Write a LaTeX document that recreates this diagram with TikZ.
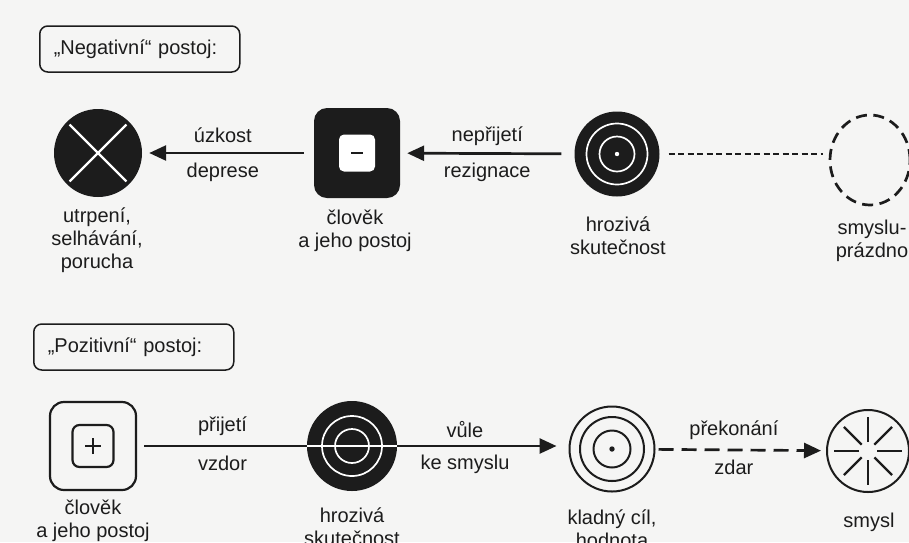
\documentclass[tikz,border=0pt]{standalone}
\usepackage{fontspec}
\setmainfont{Liberation Sans}
\usetikzlibrary{arrows.meta,shapes.geometric}
\definecolor{ink}{HTML}{1C1C1C}
\definecolor{paper}{HTML}{F5F5F4}
\begin{document}
\begin{tikzpicture}[x=1pt,y=-1pt,
  every node/.style={font=\fontsize{20}{23}\selectfont, text=ink},
  hdr/.style={draw=ink, line width=1.5pt, rounded corners=8pt,
    minimum height=46pt, text width=172pt, inner xsep=14pt, align=left},
  disc/.style={circle, fill=ink, inner sep=0pt},
  ring/.style={circle, draw=ink, line width=2pt, inner sep=0pt},
  caption/.style={align=center, inner sep=0pt},
  tag/.style={inner sep=0pt},
  link/.style={draw=ink, line width=2.7pt, -{Triangle[length=17pt,width=15pt]}},
]
\fill[paper] (0,0) rectangle (909,542);
\useasboundingbox (0,0) rectangle (909,542);

% ---------- negative attitude ----------
\node[hdr, anchor=west] (neghdr) at (39,49) {„Negativní“ postoj:};

% suffering: dark disc with a white cross
\node[disc, minimum size=88pt] (fail) at (98,153) {};
\draw[white, line width=2.2pt, shorten <=4pt, shorten >=4pt] (fail.north west) -- (fail.south east);
\draw[white, line width=2.2pt, shorten <=4pt, shorten >=4pt] (fail.north east) -- (fail.south west);
\node[caption] (failtxt) at (97,240) {utrpení,\\selhávání,\\porucha};

% person with a negative attitude
\node[rectangle, fill=ink, rounded corners=13pt, minimum width=86pt, minimum height=90pt] (man1) at (357,153) {};
\node[rectangle, fill=white, rounded corners=5pt, minimum width=36pt, minimum height=37pt] (minus) at (man1) {};
\draw[ink, line width=2.2pt] ([xshift=-6pt]minus.center) -- ([xshift=6pt]minus.center);
\node[caption] (man1txt) at (355,231) {člověk\\a jeho postoj};

% threatening reality
\node[disc, minimum size=85pt] (threat1) at (617,154) {};
\draw[white, line width=1.7pt] (threat1) circle[radius=30.5pt] (threat1) circle[radius=17.5pt];
\fill[white] (threat1) circle[radius=2.2pt];
\node[caption] (threat1txt) at (618,236) {hrozivá\\skutečnost};

% emptiness of meaning
\node[ellipse, draw=ink, line width=2.7pt, dash pattern=on 11pt off 6.5pt,
  minimum width=80pt, minimum height=90pt, inner sep=0pt] (void) at (870,160) {};
\node[caption] (voidtxt) at (872,241) {smyslu-\\prázdno};

\draw[link, shorten <=10pt, shorten >=7pt] (man1) -- (fail)
  node[tag, pos=0.53, above=9pt] (l1a) {úzkost}
  node[tag, pos=0.53, below=9pt] (l1b) {deprese};
\draw[link, shorten <=13pt, shorten >=7pt] (threat1) -- (man1)
  node[tag, pos=0.5, above=7pt] (l2a) {nepřijetí}
  node[tag, pos=0.5, below=8pt] (l2b) {rezignace};
\draw[ink, line width=1.6pt, dash pattern=on 6pt off 3.5pt]
  ([xshift=9pt]threat1.east) -- ([xshift=-6pt]threat1.east -| void.west);

% ---------- positive attitude ----------
\node[hdr, anchor=west] (poshdr) at (33,347) {„Pozitivní“ postoj:};

% person with a positive attitude
\node[rectangle, draw=ink, line width=2.2pt, rounded corners=14pt, minimum width=86pt, minimum height=88pt] (man2) at (93,446) {};
\node[rectangle, draw=ink, line width=2.2pt, rounded corners=7pt, minimum width=41pt, minimum height=42pt] (plus) at (man2) {};
\draw[ink, line width=2.6pt] ([xshift=-8pt]plus.center) -- ([xshift=8pt]plus.center)
  ([yshift=-8pt]plus.center) -- ([yshift=8pt]plus.center);
\node[caption] (man2txt) at (93,521) {člověk\\a jeho postoj};

% positive goal: open target
\node[ring, minimum size=85pt] (goal) at (612,449) {};
\draw[ink, line width=2pt] (goal) circle[radius=32pt] (goal) circle[radius=18.5pt];
\fill[ink] (goal) circle[radius=2.7pt];
\node[caption] (goaltxt) at (612,529) {kladný cíl,\\hodnota};

% meaning: circle with radiating spokes
\node[ring, minimum size=82pt] (sense) at (868,451) {};
\foreach \a in {0,45,...,315}
  \draw[ink, line width=2.2pt] (sense.center) ++(\a:9pt) -- ++(\a:25pt);
\node[caption] (sensetxt) at (869,522) {smysl};

% acceptance / defiance runs through the threat
\draw[link, shorten <=7pt, shorten >=12pt] (man2.east) -- (man2.east -| goal.west)
  node[tag, pos=0.198, above=9pt] (l3a) {přijetí}
  node[tag, pos=0.198, below=9pt] (l3b) {vzdor}
  node[tag, pos=0.76, above=7pt] (l4a) {vůle}
  node[tag, pos=0.76, below=8pt] (l4b) {ke smyslu};

% threatening reality, crossed by the path
\node[disc, minimum size=90pt] (threat2) at (352,446) {};
\draw[white, line width=1.7pt] (threat2) circle[radius=30pt] (threat2) circle[radius=17pt];
\draw[white, line width=2.6pt] (threat2.west) -- (threat2.east);
\node[caption] (threat2txt) at (352,527) {hrozivá\\skutečnost};

\draw[link, dash pattern=on 15pt off 8pt, shorten <=3pt, shorten >=5pt] (goal) -- (sense)
  node[tag, pos=0.46, above=9pt] (l5a) {překonání}
  node[tag, pos=0.46, below=9pt] (l5b) {zdar};
\end{tikzpicture}
\end{document}
